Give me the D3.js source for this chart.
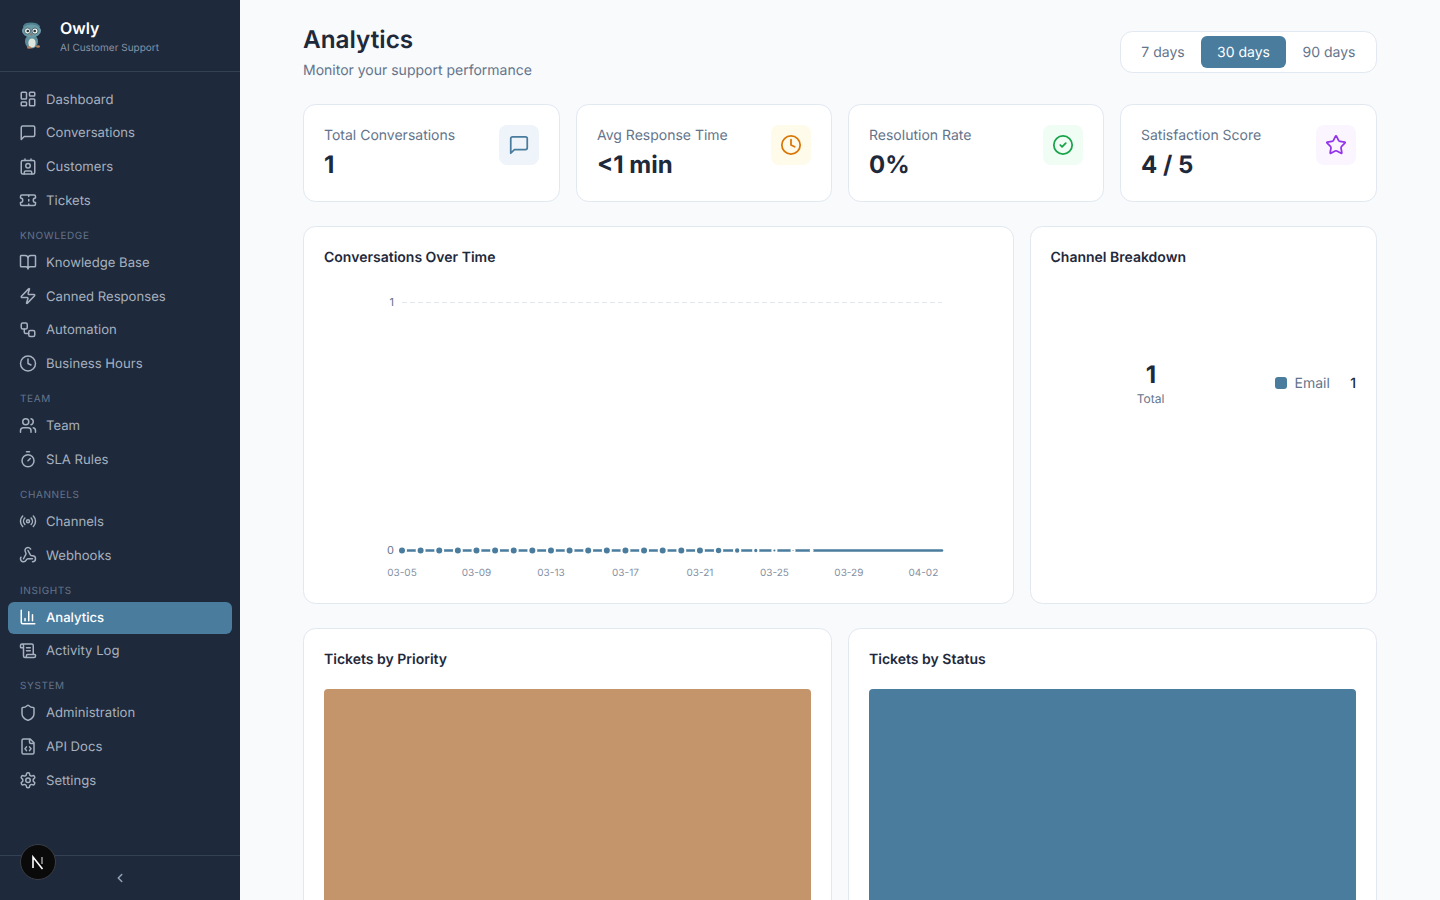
<!DOCTYPE html>
<html>
<head>
<meta charset="utf-8">
<title>Owly Analytics</title>
<script src="https://cdn.jsdelivr.net/npm/d3@7"></script>
<style>
html, body { margin: 0; padding: 0; overflow: hidden; background: #f8fafc; }
svg { display: block; font-family: Inter, "Noto Sans", sans-serif; text-rendering: geometricPrecision; }
.icon { fill: none; stroke-linecap: round; stroke-linejoin: round; }
.tick line, .domain { display: none; }
</style>
</head>
<body>
<svg id="page" width="1440" height="900"></svg>
<script>
// data
var navGroups = [
	{ title: null, items: ['Dashboard', 'Conversations', 'Customers', 'Tickets'] },
	{ title: 'KNOWLEDGE', items: ['Knowledge Base', 'Canned Responses', 'Automation', 'Business Hours'] },
	{ title: 'TEAM', items: ['Team', 'SLA Rules'] },
	{ title: 'CHANNELS', items: ['Channels', 'Webhooks'] },
	{ title: 'INSIGHTS', items: ['Analytics', 'Activity Log'] },
	{ title: 'SYSTEM', items: ['Administration', 'API Docs', 'Settings'] }
];
var rangeLabels = ['7 days', '30 days', '90 days'];
var statLabels = ['Total Conversations', 'Avg Response Time', 'Resolution Rate', 'Satisfaction Score'];
var statValues = ['1', '<1 min', '0%', '4 / 5'];
var dates = ['03-05','03-06','03-07','03-08','03-09','03-10','03-11','03-12','03-13','03-14',
	'03-15','03-16','03-17','03-18','03-19','03-20','03-21','03-22','03-23','03-24',
	'03-25','03-26','03-27','03-28','03-29','03-30','03-31','04-01','04-02','04-03'];
var conversations = [0,0,0,0,0,0,0,0,0,0,0,0,0,0,0,0,0,0,0,0,0,0,0,0,0,0,0,0,0,0];
var dateTicks = ['03-05','03-09','03-13','03-17','03-21','03-25','03-29','04-02'];
var channelNames = ['Email'];
var channelCounts = [1];
var priorityNames = ['Medium'];
var priorityCounts = [1];
var statusNames = ['Open'];
var statusCounts = [1];

// lucide icons
var icons = {
	'Dashboard': '<rect x="3" y="3" width="7" height="9" rx="1"/><rect x="14" y="3" width="7" height="5" rx="1"/><rect x="14" y="12" width="7" height="9" rx="1"/><rect x="3" y="16" width="7" height="5" rx="1"/>',
	'Conversations': '<path d="M21 15a2 2 0 0 1-2 2H7l-4 4V5a2 2 0 0 1 2-2h14a2 2 0 0 1 2 2z"/>',
	'Customers': '<path d="M16 2v2M7 22v-2a2 2 0 0 1 2-2h6a2 2 0 0 1 2 2v2M8 2v2"/><circle cx="12" cy="11" r="3"/><rect x="3" y="4" width="18" height="18" rx="2"/>',
	'Tickets': '<path d="M2 9a3 3 0 0 1 0 6v2a2 2 0 0 0 2 2h16a2 2 0 0 0 2-2v-2a3 3 0 0 1 0-6V7a2 2 0 0 0-2-2H4a2 2 0 0 0-2 2ZM13 5v2M13 17v2M13 11v2"/>',
	'Knowledge Base': '<path d="M12 7v14M3 18a1 1 0 0 1-1-1V4a1 1 0 0 1 1-1h5a4 4 0 0 1 4 4 4 4 0 0 1 4-4h5a1 1 0 0 1 1 1v13a1 1 0 0 1-1 1h-6a3 3 0 0 0-3 3 3 3 0 0 0-3-3z"/>',
	'Canned Responses': '<path d="M4 14a1 1 0 0 1-.78-1.63l9.9-10.2a.5.5 0 0 1 .86.46l-1.92 6.02A1 1 0 0 0 13 10h7a1 1 0 0 1 .78 1.63l-9.9 10.2a.5.5 0 0 1-.86-.46l1.92-6.02A1 1 0 0 0 11 14z"/>',
	'Automation': '<rect x="3" y="3" width="8" height="8" rx="2"/><path d="M7 11v4a2 2 0 0 0 2 2h4"/><rect x="13" y="13" width="8" height="8" rx="2"/>',
	'Business Hours': '<circle cx="12" cy="12" r="10"/><path d="M12 6v6l4 2"/>',
	'Team': '<path d="M16 21v-2a4 4 0 0 0-4-4H6a4 4 0 0 0-4 4v2"/><circle cx="9" cy="7" r="4"/><path d="M22 21v-2a4 4 0 0 0-3-3.87M16 3.13a4 4 0 0 1 0 7.75"/>',
	'SLA Rules': '<path d="M10 2h4M12 14l3-3"/><circle cx="12" cy="14" r="8"/>',
	'Channels': '<path d="M4.9 19.1C1 15.2 1 8.8 4.9 4.9M7.8 16.2c-2.3-2.3-2.3-6.1 0-8.5"/><circle cx="12" cy="12" r="2"/><path d="M16.2 7.8c2.3 2.3 2.3 6.1 0 8.5M19.1 4.9C23 8.8 23 15.1 19.1 19"/>',
	'Webhooks': '<path d="M18 16.98h-5.99c-1.1 0-1.95.94-2.48 1.9A4 4 0 0 1 2 17c.01-.7.2-1.4.57-2M6 17l3.13-5.78c.53-.97.1-2.18-.5-3.1a4 4 0 1 1 6.89-4.06M12 6l3.13 5.73C15.66 12.7 16.9 13 18 13a4 4 0 0 1 0 8"/>',
	'Analytics': '<path d="M3 3v16a2 2 0 0 0 2 2h16M18 17V9M13 17V5M8 17v-3"/>',
	'Activity Log': '<path d="M15 12h-5M15 8h-5M19 17V5a2 2 0 0 0-2-2H4M8 21h12a2 2 0 0 0 2-2v-1a1 1 0 0 0-1-1H11a1 1 0 0 0-1 1v1a2 2 0 1 1-4 0V5a2 2 0 1 0-4 0v2a1 1 0 0 0 1 1h3"/>',
	'Administration': '<path d="M20 13c0 5-3.5 7.5-7.66 8.95a1 1 0 0 1-.67-.01C7.5 20.5 4 18 4 13V6a1 1 0 0 1 1-1c2 0 4.5-1.2 6.24-2.72a1.17 1.17 0 0 1 1.52 0C14.51 3.81 17 5 19 5a1 1 0 0 1 1 1z"/>',
	'API Docs': '<path d="M15 2H6a2 2 0 0 0-2 2v16a2 2 0 0 0 2 2h12a2 2 0 0 0 2-2V7ZM14 2v4a2 2 0 0 0 2 2h4M10 12.5 8 15l2 2.5M14 12.5l2 2.5-2 2.5"/>',
	'Settings': '<path d="M12.22 2h-.44a2 2 0 0 0-2 2v.18a2 2 0 0 1-1 1.73l-.43.25a2 2 0 0 1-2 0l-.15-.08a2 2 0 0 0-2.73.73l-.22.38a2 2 0 0 0 .73 2.73l.15.1a2 2 0 0 1 1 1.72v.51a2 2 0 0 1-1 1.74l-.15.09a2 2 0 0 0-.73 2.73l.22.38a2 2 0 0 0 2.73.73l.15-.08a2 2 0 0 1 2 0l.43.25a2 2 0 0 1 1 1.73V20a2 2 0 0 0 2 2h.44a2 2 0 0 0 2-2v-.18a2 2 0 0 1 1-1.73l.43-.25a2 2 0 0 1 2 0l.15.08a2 2 0 0 0 2.73-.73l.22-.39a2 2 0 0 0-.73-2.73l-.15-.08a2 2 0 0 1-1-1.74v-.5a2 2 0 0 1 1-1.74l.15-.09a2 2 0 0 0 .73-2.73l-.22-.38a2 2 0 0 0-2.73-.73l-.15.08a2 2 0 0 1-2 0l-.43-.25a2 2 0 0 1-1-1.73V4a2 2 0 0 0-2-2z"/><circle cx="12" cy="12" r="3"/>',
	'check': '<circle cx="12" cy="12" r="10"/><path d="m9 12 2 2 4-4"/>',
	'star': '<path d="M11.525 2.295a.53.53 0 0 1 .95 0l2.31 4.679a2.123 2.123 0 0 0 1.595 1.16l5.166.756a.53.53 0 0 1 .294.904l-3.736 3.638a2.123 2.123 0 0 0-.611 1.878l.882 5.14a.53.53 0 0 1-.771.56l-4.618-2.428a2.122 2.122 0 0 0-1.973 0L6.396 21.01a.53.53 0 0 1-.77-.56l.881-5.139a2.122 2.122 0 0 0-.611-1.879L2.16 9.795a.53.53 0 0 1 .294-.906l5.165-.755a2.122 2.122 0 0 0 1.597-1.16z"/>',
	'back': '<path d="m15 18-6-6 6-6"/>'
};

var BLUE = '#4a7c9e', TAN = '#c4956a', INK = '#1e293b', MUTED = '#64748b', EDGE = '#e2e8f0';
var svg = d3.select('#page');

function icon(parent, name, x, y, size, color, width) {
	return parent.append('g').attr('class', 'icon')
		.attr('transform', 'translate(' + x + ',' + y + ') scale(' + size / 24 + ')')
		.attr('stroke', color).attr('stroke-width', width * 24 / size)
		.html(icons[name]);
}
function label(parent, str, x, y, size, color, weight, anchor) {
	return parent.append('text').text(str)
		.attr('x', x).attr('y', y)
		.attr('dominant-baseline', 'central')
		.attr('font-size', size).attr('fill', color)
		.attr('font-weight', weight || 400)
		.attr('text-anchor', anchor || 'start');
}
function card(x, y, w, h) {
	svg.append('rect').attr('x', x + 0.5).attr('y', y + 0.5).attr('width', w - 1).attr('height', h - 1)
		.attr('rx', 12).attr('fill', '#fff').attr('stroke', EDGE);
}

// sidebar
var side = svg.append('g');
side.append('rect').attr('width', 240).attr('height', 900).attr('fill', '#1e293b');
side.append('line').attr('x1', 0).attr('x2', 240).attr('y1', 71.5).attr('y2', 71.5).attr('stroke', '#334155');
side.append('line').attr('x1', 0).attr('x2', 240).attr('y1', 855.5).attr('y2', 855.5).attr('stroke', '#334155');

// owl logo
var owl = side.append('g');
owl.append('path').attr('d', 'M23 26L25 23.5Q31 21.5 37 23.5L40 26L38 34H24Z').attr('fill', '#4f818f');
owl.append('ellipse').attr('cx', 31.5).attr('cy', 41.5).attr('rx', 6.5).attr('ry', 7).attr('fill', '#5f8f9b');
owl.append('ellipse').attr('cx', 32).attr('cy', 43).attr('rx', 3.6).attr('ry', 4.5).attr('fill', '#dfe6df');
owl.append('ellipse').attr('cx', 31.5).attr('cy', 31).attr('rx', 9.5).attr('ry', 6.5).attr('fill', '#6a9aa6');
owl.append('circle').attr('cx', 27.5).attr('cy', 31).attr('r', 3).attr('fill', '#eef2ee').attr('stroke', '#2d4652').attr('stroke-width', 0.7);
owl.append('circle').attr('cx', 35).attr('cy', 31).attr('r', 3).attr('fill', '#eef2ee').attr('stroke', '#2d4652').attr('stroke-width', 0.7);
owl.append('circle').attr('cx', 27.8).attr('cy', 31).attr('r', 1.3).attr('fill', '#26323c');
owl.append('circle').attr('cx', 34.7).attr('cy', 31).attr('r', 1.3).attr('fill', '#26323c');
owl.append('circle').attr('cx', 31.4).attr('cy', 34.5).attr('r', 1.1).attr('fill', '#b0674a');
owl.append('ellipse').attr('cx', 29).attr('cy', 47.5).attr('rx', 2).attr('ry', 1.3).attr('fill', '#b9805e');
owl.append('ellipse').attr('cx', 38).attr('cy', 46.5).attr('rx', 2).attr('ry', 1.3).attr('fill', '#b9805e');
label(side, 'Owly', 60, 28, 16, '#fff', 600);
label(side, 'AI Customer Support', 60, 47.5, 10, '#8793a5');

var navY = 99;
navGroups.forEach(function(group) {
	if (group.title) {
		label(side, group.title, 20, navY - 26.5, 10, '#64748b', 400).attr('letter-spacing', 0.6);
	}
	group.items.forEach(function(name) {
		var active = name === 'Analytics';
		if (active) {
			side.append('rect').attr('x', 8).attr('y', navY - 15).attr('width', 224).attr('height', 32)
				.attr('rx', 6).attr('fill', BLUE);
		}
		var color = active ? '#fff' : '#a7b1bf';
		icon(side, name, 19, navY - 9, 18, color, 1.5);
		label(side, name, 46, navY + 0.65, 13.12, color, active ? 500 : 400);
		navY += 33.75;
	});
	navY += 28.25;
});
icon(side, 'back', 113, 871, 14, '#94a3b8', 1.5);

// next.js badge
side.append('circle').attr('cx', 38).attr('cy', 862).attr('r', 17.5).attr('fill', '#0a0a0a').attr('stroke', '#3a3f47').attr('stroke-width', 1);
side.append('path').attr('d', 'M33 868V857L42.5 869').attr('fill', 'none').attr('stroke', '#fff').attr('stroke-width', 1.6);
side.append('path').attr('d', 'M42 857V864').attr('fill', 'none').attr('stroke', '#aaa').attr('stroke-width', 1.4);

// header
label(svg, 'Analytics', 303, 39, 24.3, INK, 600);
label(svg, 'Monitor your support performance', 303, 70.4, 14, MUTED);
card(1120, 31, 257, 42);
svg.append('rect').attr('x', 1201).attr('y', 36).attr('width', 85).attr('height', 32).attr('rx', 6).attr('fill', BLUE);
var rangeX = d3.scaleOrdinal().domain(rangeLabels).range([1163, 1243.5, 1329]);
rangeLabels.forEach(function(d, i) {
	label(svg, d, rangeX(d), 52.4, 14, i === 1 ? '#fff' : MUTED, 400, 'middle');
});

// stat cards
var statX = [303, 576, 848, 1120];
var statIcon = ['Conversations', 'Business Hours', 'check', 'star'];
var statColor = [BLUE, '#d97706', '#16a34a', '#9333ea'];
var statTile = ['#eef4f9', '#fffbeb', '#f0fdf4', '#faf5ff'];
statLabels.forEach(function(d, i) {
	var x = statX[i];
	card(x, 104, i === 0 ? 257 : (i === 3 ? 257 : 256), 98);
	label(svg, d, x + 21, 135.4, 14, MUTED);
	label(svg, statValues[i], x + 21, 164.5, 24, INK, 700);
	var tx = x + (i === 0 || i === 3 ? 196 : 195);
	svg.append('rect').attr('x', tx).attr('y', 125).attr('width', 40).attr('height', 40).attr('rx', 8).attr('fill', statTile[i]);
	icon(svg, statIcon[i], tx + 9, 134, 22, statColor[i], 1.75);
});

// line chart
card(303, 226, 711, 378);
label(svg, 'Conversations Over Time', 324, 257.4, 14, INK, 600);
var x = d3.scalePoint().domain(dates).range([402, 942]);
var y = d3.scaleLinear().domain([0, 1]).range([550.5, 302.5]);
svg.append('g').selectAll('line').data(y.ticks(1)).join('line')
	.attr('x1', 402).attr('x2', 942)
	.attr('y1', y).attr('y2', y)
	.attr('stroke', '#e2e8f0').attr('stroke-dasharray', '5 3');
var xAxis = d3.axisBottom(x).tickValues(dateTicks).tickSize(0).tickPadding(0).offset(0);
var xg = svg.append('g').attr('transform', 'translate(0,568.8)').call(xAxis);
xg.selectAll('text').attr('font-size', 10).attr('fill', '#8490a3').attr('font-family', 'Inter').attr('y', 0).attr('dy', '0.75em');
var yAxis = d3.axisLeft(y).tickValues([0, 1]).tickFormat(d3.format('d')).tickSize(0).tickPadding(0).offset(0);
var yg = svg.append('g').attr('transform', 'translate(394,0)').call(yAxis);
yg.selectAll('text').attr('font-size', 11).attr('fill', '#64748b').attr('font-family', 'Inter');
var line = d3.line().x(function(d, i) { return x(dates[i]); }).y(function(d) { return y(d); });
svg.append('path').datum(conversations).attr('d', line)
	.attr('fill', 'none').attr('stroke', BLUE).attr('stroke-width', 2.5).attr('stroke-linecap', 'round');
// dots were caught mid animation, the later ones are still growing
var dotSize = d3.scaleLinear().domain([16.5, 22]).range([4, 1]).clamp(true);
svg.append('g').selectAll('circle').data(conversations.slice(0, 23)).join('circle')
	.attr('cx', function(d, i) { return x(dates[i]); })
	.attr('cy', function(d) { return y(d); })
	.attr('r', function(d, i) { return dotSize(i); })
	.attr('fill', BLUE).attr('stroke', '#fff').attr('stroke-width', 2);

// channel breakdown
card(1030, 226, 347, 378);
label(svg, 'Channel Breakdown', 1050.5, 257.4, 14, INK, 600);
label(svg, d3.sum(channelCounts), 1151, 374.5, 24, INK, 700, 'middle');
label(svg, 'Total', 1150.5, 398.5, 12, MUTED, 400, 'middle');
channelNames.forEach(function(d, i) {
	svg.append('rect').attr('x', 1275).attr('y', 377).attr('width', 12).attr('height', 12).attr('rx', 3).attr('fill', BLUE);
	label(svg, d, 1294.5, 383.4, 14, MUTED);
	label(svg, channelCounts[i], 1356, 383.4, 14, INK, 500, 'end');
});

// bar charts, they run past the bottom of the window
function barCard(cx, title, names, counts, color) {
	card(cx, 628, 529, 400);
	label(svg, title, cx + 21, 659.4, 14, INK, 600);
	var bx = d3.scaleBand().domain(names).range([cx + 21, cx + 508]);
	var by = d3.scaleLinear().domain([0, 1]).range([1010, 689]);
	svg.append('g').selectAll('rect').data(counts).join('rect')
		.attr('x', function(d, i) { return bx(names[i]); })
		.attr('y', function(d) { return by(d); })
		.attr('width', bx.bandwidth())
		.attr('height', function(d) { return by(0) - by(d); })
		.attr('rx', 4).attr('fill', color);
}
barCard(303, 'Tickets by Priority', priorityNames, priorityCounts, TAN);
barCard(848, 'Tickets by Status', statusNames, statusCounts, BLUE);
</script>
</body>
</html>
